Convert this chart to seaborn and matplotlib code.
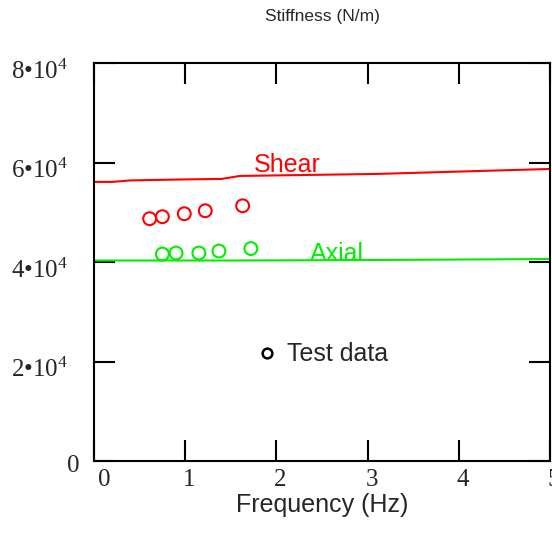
import matplotlib
matplotlib.use("Agg")
import matplotlib.pyplot as plt
import matplotlib.transforms as mtransforms
import seaborn as sns
import pandas as pd
from matplotlib.lines import Line2D

# ---- data ----
shear_freq = [0.0, 0.2, 0.4, 1.0, 1.4, 1.6, 3.1, 5.0]
shear_stiff = [5.61e4, 5.61e4, 5.64e4, 5.66e4, 5.67e4, 5.73e4, 5.77e4, 5.87e4]
axial_freq = [0.0, 1.5, 3.1, 5.0]
axial_stiff = [4.03e4, 4.03e4, 4.04e4, 4.06e4]
shear_test_freq = [0.61, 0.75, 0.99, 1.22, 1.63]
shear_test_stiff = [4.87e4, 4.91e4, 4.97e4, 5.03e4, 5.13e4]
axial_test_freq = [0.75, 0.90, 1.15, 1.37, 1.72]
axial_test_stiff = [4.16e4, 4.18e4, 4.18e4, 4.22e4, 4.27e4]
x_ticks = [0, 1, 2, 3, 4, 5]
y_ticks = [0, 2e4, 4e4, 6e4, 8e4]
y_tick_labels = ["0", "2•10$^{4}$", "4•10$^{4}$", "6•10$^{4}$", "8•10$^{4}$"]

sns.set_style("white")
plt.rcParams["font.family"] = ["Liberation Sans", "DejaVu Sans"]
plt.rcParams["mathtext.fontset"] = "custom"
plt.rcParams["mathtext.rm"] = "Liberation Serif"
plt.rcParams["mathtext.it"] = "Liberation Serif"

RED = "#ff0000"
GREEN = "#00ee00"

fig = plt.figure(figsize=(5.52, 5.35), dpi=100)
ax = fig.add_axes([94 / 552, 1 - 461 / 535, 456 / 552, 398 / 535])

shear_df = pd.DataFrame({"f": shear_freq, "k": shear_stiff})
axial_df = pd.DataFrame({"f": axial_freq, "k": axial_stiff})
sns.lineplot(data=shear_df, x="f", y="k", color=RED, lw=1.5, ax=ax)
sns.lineplot(data=axial_df, x="f", y="k", color=GREEN, lw=1.5, ax=ax)

sns.scatterplot(x=shear_test_freq, y=shear_test_stiff, marker="o", s=85,
                fc="none", ec=RED, linewidth=1.5, ax=ax)
sns.scatterplot(x=axial_test_freq, y=axial_test_stiff, marker="o", s=85,
                fc="none", ec=GREEN, linewidth=1.5, ax=ax)

ax.text(1.75, 5.94e4, "Shear", color=RED, fontsize=18, va="center", ha="left")
ax.text(2.37, 4.16e4, "Axial", color=GREEN, fontsize=18, va="center", ha="left")

handle = Line2D([], [], ls="none", marker="o", mfc="none", mec="black",
                mew=1.8, ms=7)
ax.legend([handle], ["Test data"], loc="center left",
          bbox_to_anchor=(0.354, 0.268), frameon=False, fontsize=18,
          handlelength=0.9, handletextpad=0.35, borderpad=0, borderaxespad=0)

ax.set_xlim(0, 5)
ax.set_ylim(0, 8e4)
ax.set_xticks(x_ticks)
ax.set_xticklabels([str(t) for t in x_ticks])
ax.set_yticks(y_ticks)
ax.set_yticklabels(y_tick_labels)

for lab in ax.get_xticklabels() + ax.get_yticklabels():
    lab.set_fontfamily("Liberation Serif")
    lab.set_fontsize(18)

ax.tick_params(axis="both", which="major", direction="in", length=15,
               width=1.5, color="black", top=True, right=True,
               bottom=True, left=True)
ax.tick_params(axis="x", pad=6)
ax.tick_params(axis="y", pad=19)

# small offsets to mimic the reference label placement
dpi_tr = fig.dpi_scale_trans
xlabs = ax.get_xticklabels()
for i, lab in enumerate(xlabs):
    dx = 10 if i == 0 else 4
    lab.set_transform(lab.get_transform() +
                      mtransforms.ScaledTranslation(dx / 100, 0, dpi_tr))
ylabs = ax.get_yticklabels()
for i, lab in enumerate(ylabs):
    if i == 0:
        off = mtransforms.ScaledTranslation(12 / 100, -2 / 100, dpi_tr)
    else:
        off = mtransforms.ScaledTranslation(0, -6 / 100, dpi_tr)
    lab.set_transform(lab.get_transform() + off)

for sp in ax.spines.values():
    sp.set_visible(True)
    sp.set_color("black")
    sp.set_linewidth(1.5)

ax.set_xlabel("Frequency (Hz)", fontsize=18, labelpad=1.5)
ax.set_ylabel("")
ax.set_title("Stiffness (N/m)", fontsize=12.5, pad=30)

fig.savefig("out.png", dpi=100)
